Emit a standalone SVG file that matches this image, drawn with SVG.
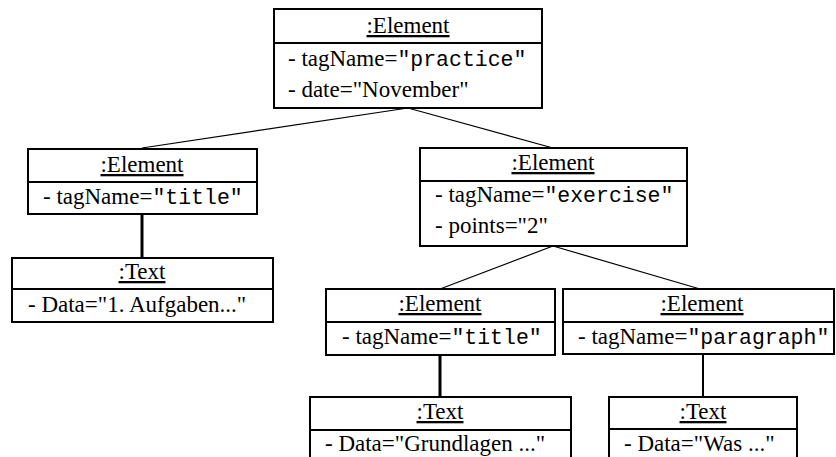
<svg xmlns="http://www.w3.org/2000/svg" width="836" height="457" viewBox="0 0 836 457">
<style>
.box{fill:#fff;stroke:#000;stroke-width:2}
.div{stroke:#000;stroke-width:2}
.t{font-family:"Liberation Serif","Times New Roman",serif;font-size:23px;fill:#000}
.title{text-anchor:middle;text-decoration:underline}
.m{font-family:"Liberation Mono","Courier New",monospace;font-size:21.5px}
.c{stroke:#000;stroke-width:1.2;fill:none}
.v{stroke:#000;stroke-width:3;fill:none}
</style>
<g id="connectors">
<line class="c" x1="408" y1="108" x2="142" y2="148"/>
<line class="c" x1="408" y1="108" x2="553" y2="148"/>
<line class="v" x1="142" y1="214" x2="142" y2="258"/>
<line class="c" x1="553" y1="246" x2="440" y2="289"/>
<line class="c" x1="553" y1="246" x2="700" y2="289"/>
<line class="v" x1="440" y1="355" x2="440" y2="397"/>
<line class="c" x1="703" y1="354" x2="703" y2="397" style="stroke-width:2"/>
</g>
<g id="practice">
<rect class="box" x="274" y="9" width="268" height="99"/>
<line class="div" x1="274" y1="43" x2="542" y2="43"/>
<text class="t title" x="408" y="33">:Element</text>
<text class="t" x="288" y="66">- tagName=<tspan class="m">"practice"</tspan></text>
<text class="t" x="288" y="97">- date="November"</text>
</g>
<g id="title1">
<rect class="box" x="28" y="149" width="229" height="65"/>
<line class="div" x1="28" y1="182" x2="257" y2="182"/>
<text class="t title" x="142" y="172">:Element</text>
<text class="t" x="43" y="204">- tagName=<tspan class="m">"title"</tspan></text>
</g>
<g id="text1">
<rect class="box" x="12" y="258" width="261" height="64"/>
<line class="div" x1="12" y1="289" x2="273" y2="289"/>
<text class="t title" x="142" y="279">:Text</text>
<text class="t" x="28" y="312">- Data="1. Aufgaben..."</text>
</g>
<g id="exercise">
<rect class="box" x="420" y="148" width="267" height="98"/>
<line class="div" x1="420" y1="181" x2="687" y2="181"/>
<text class="t title" x="553" y="170">:Element</text>
<text class="t" x="435" y="202">- tagName=<tspan class="m">"exercise"</tspan></text>
<text class="t" x="435" y="233">- points="2"</text>
</g>
<g id="title2">
<rect class="box" x="326" y="289" width="229" height="66"/>
<line class="div" x1="326" y1="322" x2="555" y2="322"/>
<text class="t title" x="440" y="311">:Element</text>
<text class="t" x="342" y="344">- tagName=<tspan class="m">"title"</tspan></text>
</g>
<g id="paragraph">
<rect class="box" x="563" y="289" width="271" height="65"/>
<line class="div" x1="563" y1="322" x2="834" y2="322"/>
<text class="t title" x="702" y="311">:Element</text>
<text class="t" x="578" y="344">- tagName=<tspan class="m">"paragraph"</tspan></text>
</g>
<g id="text2">
<rect class="box" x="310" y="397" width="261" height="70"/>
<line class="div" x1="310" y1="430" x2="571" y2="430"/>
<text class="t title" x="440" y="419">:Text</text>
<text class="t" x="325" y="451">- Data="Grundlagen ..."</text>
</g>
<g id="text3">
<rect class="box" x="609" y="397" width="188" height="70"/>
<line class="div" x1="609" y1="429" x2="797" y2="429"/>
<text class="t title" x="703" y="419">:Text</text>
<text class="t" x="624" y="451">- Data="Was ..."</text>
</g>
</svg>
